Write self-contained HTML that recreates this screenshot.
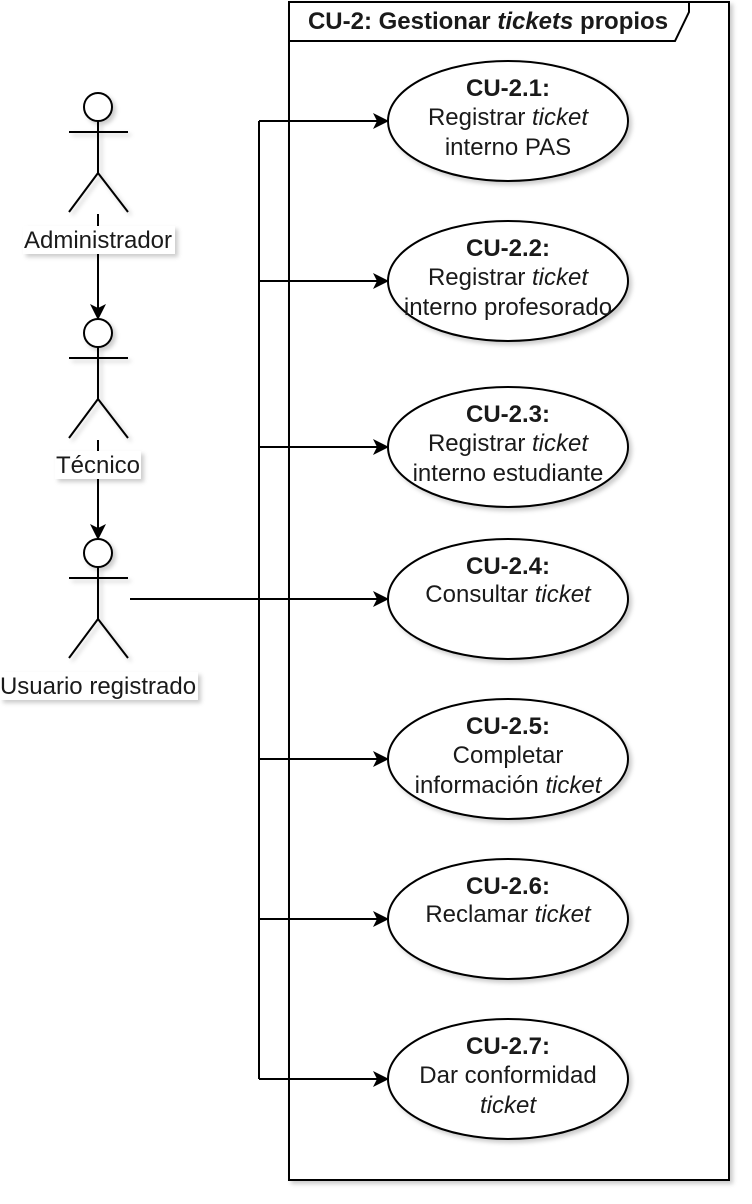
<!DOCTYPE html>
<html><head><meta charset="utf-8"><style>
html,body{margin:0;padding:0;background:#fff;}
</style></head><body>
<svg width="752" height="1204" viewBox="0 0 752 1204" xmlns="http://www.w3.org/2000/svg" style="display:block">
<defs>
<filter id="sh" x="-10%" y="-10%" width="130%" height="130%"><feDropShadow dx="3" dy="3" stdDeviation="2" flood-color="#000" flood-opacity="0.2"/></filter>
</defs>
<g filter="url(#sh)">
<rect x="289" y="2" width="440" height="1178" fill="#fff" stroke="#000" stroke-width="2"/>
<polygon points="289,2 689,2 689,12 675,41 289,41" fill="#fff" stroke="#000" stroke-width="2"/>
</g>
<text x="488" y="29" text-anchor="middle" font-weight="bold" font-family="Liberation Sans, sans-serif" fill="#1a1a1a" style="font-size:24px">CU-2: Gestionar <tspan font-style="italic">tickets</tspan> propios</text>

<g stroke="#000" stroke-width="2" fill="none">
<path d="M259,121 V1079"/>
<path d="M259,121 H378"/>
<path d="M259,281 H378"/>
<path d="M259,447 H378"/>
<path d="M130,599 H378"/>
<path d="M259,759 H378"/>
<path d="M259,919 H378"/>
<path d="M259,1079 H378"/>
<path d="M98,214 V308"/>
<path d="M98,440 V528"/>
</g>
<g fill="#000">
<polygon points="389,121 373,113 377,121 373,129"/>
<polygon points="389,281 373,273 377,281 373,289"/>
<polygon points="389,447 373,439 377,447 373,455"/>
<polygon points="389,599 373,591 377,599 373,607"/>
<polygon points="389,759 373,751 377,759 373,767"/>
<polygon points="389,919 373,911 377,919 373,927"/>
<polygon points="389,1079 373,1071 377,1079 373,1087"/>
<polygon points="98,320 90,304 98,308 106,304"/>
<polygon points="98,540 90,524 98,528 106,524"/>
</g>

<g filter="url(#sh)" stroke="#000" stroke-width="2" fill="#fff">
<ellipse cx="508" cy="121" rx="120" ry="60"/>
<ellipse cx="508" cy="281" rx="120" ry="60"/>
<ellipse cx="508" cy="447" rx="120" ry="60"/>
<ellipse cx="508" cy="599" rx="120" ry="60"/>
<ellipse cx="508" cy="759" rx="120" ry="60"/>
<ellipse cx="508" cy="919" rx="120" ry="60"/>
<ellipse cx="508" cy="1079" rx="120" ry="60"/>
</g>

<g filter="url(#sh)" stroke="#000" stroke-width="2" fill="none">
<g><circle cx="98" cy="107" r="14" fill="#fff"/><path d="M69,132 H128 M98,121 V173 L69,212 M98,173 L128,212"/></g>
<g transform="translate(0,226)"><circle cx="98" cy="107" r="14" fill="#fff"/><path d="M69,132 H128 M98,121 V173 L69,212 M98,173 L128,212"/></g>
<g transform="translate(0,446)"><circle cx="98" cy="107" r="14" fill="#fff"/><path d="M69,132 H128 M98,121 V173 L69,212 M98,173 L128,212"/></g>
</g>

<g filter="url(#sh)" fill="#fff">
<rect x="23" y="226" width="152" height="28"/>
<rect x="55" y="451" width="86" height="28"/>
<rect x="0" y="672" width="198" height="28"/>
</g>
<g font-family="Liberation Sans, sans-serif" fill="#1a1a1a" text-anchor="middle">
<text x="98" y="248" style="font-size:24px">Administrador</text>
<text x="98" y="473" style="font-size:24px">Técnico</text>
<text x="98" y="694" style="font-size:24px">Usuario registrado</text>

<text x="508" y="96" font-weight="bold" style="font-size:24px">CU-2.1:</text>
<text x="508" y="125" style="font-size:24px">Registrar <tspan font-style="italic">ticket</tspan></text>
<text x="508" y="155" style="font-size:24px">interno PAS</text>

<text x="508" y="256" font-weight="bold" style="font-size:24px">CU-2.2:</text>
<text x="508" y="285" style="font-size:24px">Registrar <tspan font-style="italic">ticket</tspan></text>
<text x="508" y="315" style="font-size:24px">interno profesorado</text>

<text x="508" y="422" font-weight="bold" style="font-size:24px">CU-2.3:</text>
<text x="508" y="451" style="font-size:24px">Registrar <tspan font-style="italic">ticket</tspan></text>
<text x="508" y="481" style="font-size:24px">interno estudiante</text>

<text x="508" y="574" font-weight="bold" style="font-size:24px">CU-2.4:</text>
<text x="508" y="602" style="font-size:24px">Consultar <tspan font-style="italic">ticket</tspan></text>

<text x="508" y="734" font-weight="bold" style="font-size:24px">CU-2.5:</text>
<text x="508" y="763" style="font-size:24px">Completar</text>
<text x="508" y="793" style="font-size:24px">información <tspan font-style="italic">ticket</tspan></text>

<text x="508" y="894" font-weight="bold" style="font-size:24px">CU-2.6:</text>
<text x="508" y="922" style="font-size:24px">Reclamar <tspan font-style="italic">ticket</tspan></text>

<text x="508" y="1054" font-weight="bold" style="font-size:24px">CU-2.7:</text>
<text x="508" y="1083" style="font-size:24px">Dar conformidad</text>
<text x="508" y="1113" font-style="italic" style="font-size:24px">ticket</text>
</g>
</svg>
</body></html>
